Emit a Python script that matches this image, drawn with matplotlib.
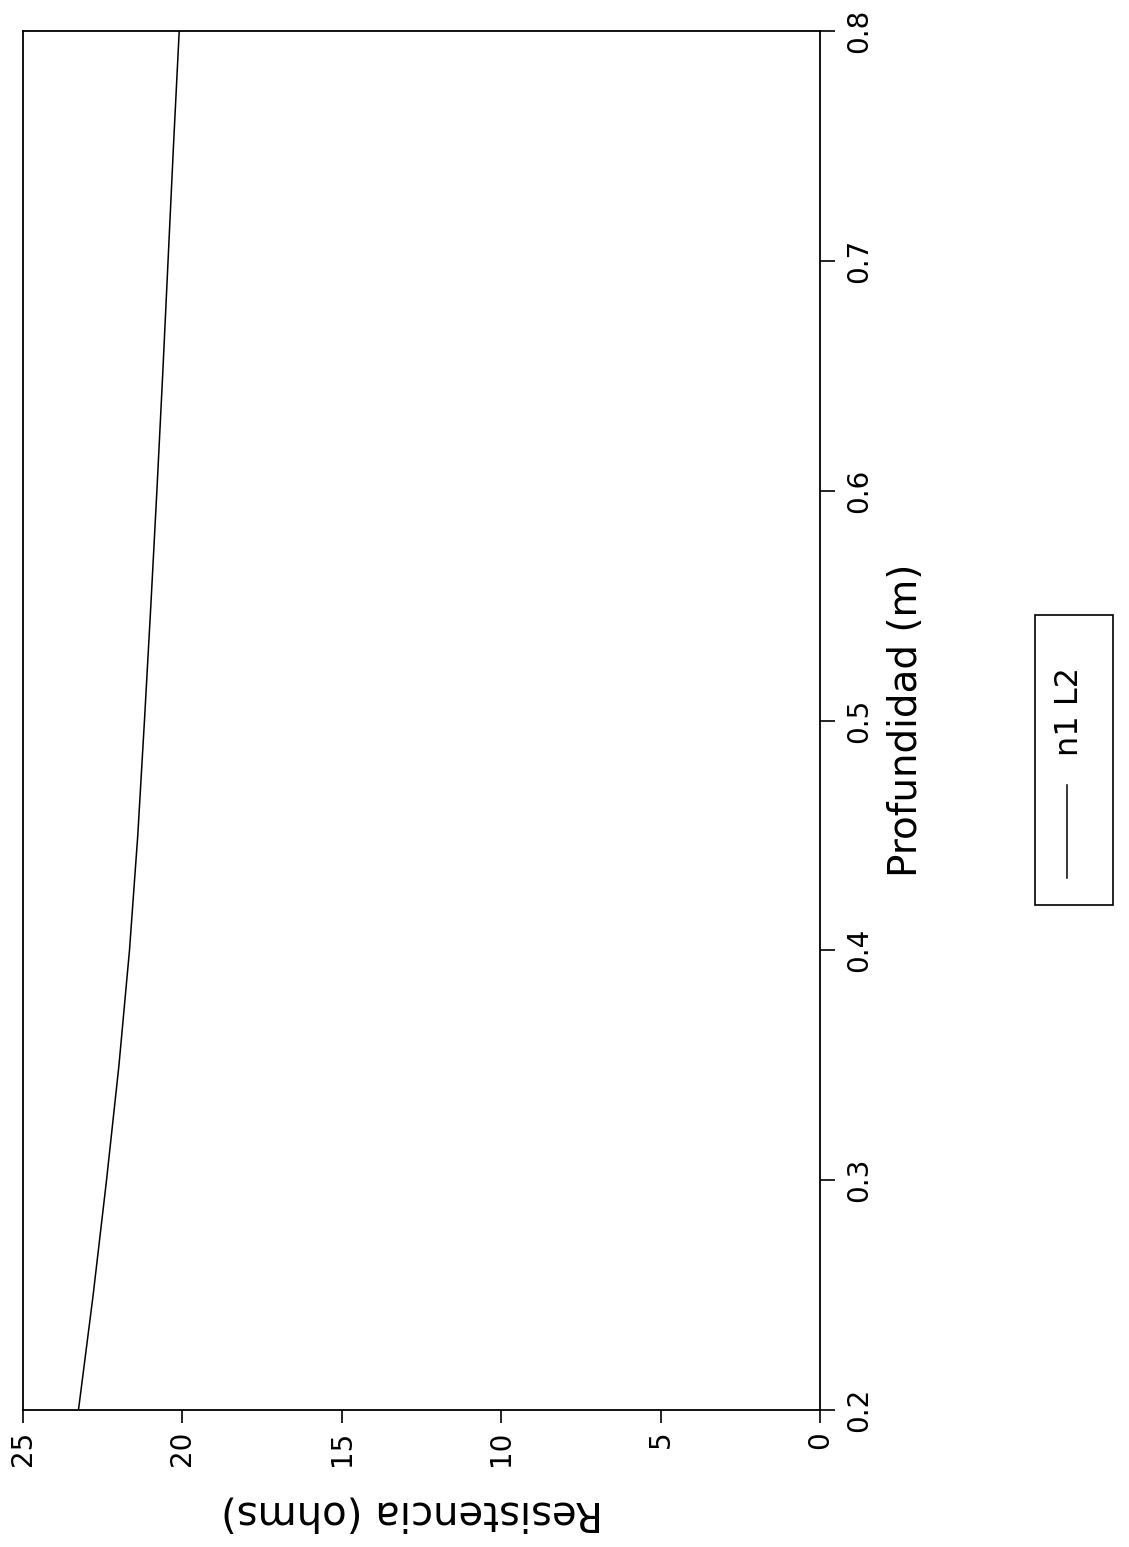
import matplotlib
matplotlib.use("Agg")
import matplotlib.pyplot as plt
from matplotlib.lines import Line2D
from matplotlib.patches import Rectangle

# Data
depth = [0.20, 0.25, 0.30, 0.35, 0.40, 0.45, 0.50, 0.55, 0.60, 0.65, 0.70, 0.75, 0.80]
resist = [23.26, 22.80, 22.38, 21.99, 21.66, 21.40, 21.19, 20.99, 20.80, 20.62, 20.45, 20.28, 20.10]
series_label = "n1 L2"
depth_ticks = [0.2, 0.3, 0.4, 0.5, 0.6, 0.7, 0.8]
depth_ticklabels = ["0.2", "0.3", "0.4", "0.5", "0.6", "0.7", "0.8"]
resist_ticks = [0, 5, 10, 15, 20, 25]
resist_ticklabels = ["0", "5", "10", "15", "20", "25"]
xlabel_text = "Profundidad (m)"
ylabel_text = "Resistencia (ohms)"

plt.rcParams['font.family'] = ['DejaVu Sans']

W, H = 1129, 1547
fig = plt.figure(figsize=(W / 100, H / 100), dpi=100)
fig.patch.set_facecolor('white')

def fx(px):
    return px / W

def fy(py):
    return 1 - py / H

left, right, top, bottom = 23, 820, 31, 1410
ax = fig.add_axes([fx(left), fy(bottom), fx(right) - fx(left), fy(top) - fy(bottom)])

# The whole chart is rotated 90 degrees: depth runs upward, resistance runs leftward
line, = ax.plot(resist, depth, color='black', lw=1.1)
ax.set_xlim(25, 0)
ax.set_ylim(0.2, 0.8)

for s in ax.spines.values():
    s.set_linewidth(1.3)
    s.set_color('black')

ax.yaxis.tick_right()
ax.set_yticks(depth_ticks)
ax.set_yticklabels(depth_ticklabels, rotation=90, va='center', fontsize=20)
ax.set_xticks(resist_ticks)
ax.set_xticklabels(resist_ticklabels, rotation=90, ha='center', fontsize=20)
ax.tick_params(axis='y', direction='out', length=11, width=1.2, pad=7, right=True, left=False)
ax.tick_params(axis='x', direction='out', length=9, width=1.2, pad=6)

fig.text(fx(906), fy(720), xlabel_text, rotation=90, ha='center', va='center', fontsize=28)
fig.text(fx(603), fy(1512), ylabel_text, rotation=180, ha='right', va='center', fontsize=29)

# Rotated legend drawn by hand
fig.add_artist(Rectangle((fx(1035), fy(905)), fx(1113) - fx(1035), fy(615) - fy(905),
                         transform=fig.transFigure, fill=False, edgecolor='black', lw=1.2))
fig.add_artist(Line2D([fx(1067), fx(1067)], [fy(878), fy(785)], transform=fig.transFigure,
                      color=line.get_color(), lw=line.get_linewidth()))
fig.text(fx(1069), fy(711), series_label, rotation=90, ha='center', va='center', fontsize=23)

fig.savefig("out.png", dpi=100, facecolor='white')
